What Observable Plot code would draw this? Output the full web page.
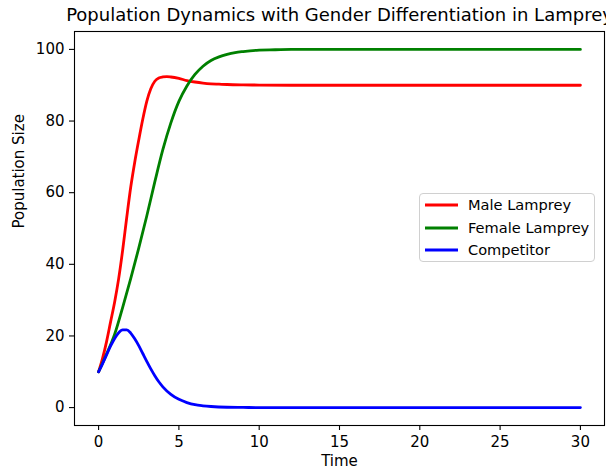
<!DOCTYPE html>
<html>
<head>
<meta charset="utf-8">
<script src="https://cdn.jsdelivr.net/npm/d3@7"></script>
<script src="https://cdn.jsdelivr.net/npm/@observablehq/plot@0.6"></script>
<style>
  html, body { margin: 0; padding: 0; background: #fff; }
  #wrap { position: relative; width: 606px; height: 475px; overflow: hidden; font-family: "DejaVu Sans", sans-serif; }
  #legend { position: absolute; left: 419px; top: 193px; width: 176px; height: 69px; border: 1px solid #d0d0d0; border-radius: 4px; background: rgba(255,255,255,0.8); box-sizing: border-box; }
  .row { position: absolute; left: 0; height: 20px; width: 100%; font-size: 14.6px; color: #000; }
  .row svg { position: absolute; left: 4px; top: 0; }
  .row span { position: absolute; left: 48px; top: 1px; line-height: 18px; white-space: nowrap; }
</style>
</head>
<body>
<div id="wrap"></div>
<script>
const title = "Population Dynamics with Gender Differentiation in Lamprey";
const xLabel = "Time";
const yLabel = "Population Size";
const seriesNames = ["Male Lamprey", "Female Lamprey", "Competitor"];
const seriesColors = ["red", "green", "blue"];
const xTicks = [0, 5, 10, 15, 20, 25, 30];
const yTicks = [0, 20, 40, 60, 80, 100];

const maleT =   [0, 0.25, 0.5, 0.75, 1.0, 1.25, 1.5, 1.75, 2.0, 2.25, 2.5, 2.75, 3.0, 3.25, 3.5, 3.75, 4.0, 4.25, 4.5, 5.0, 5.5, 6.0, 6.5, 7.0, 7.5, 8.0, 9.0, 10, 12, 15, 20, 25, 30];
const maleV =   [10, 13.8, 18.5, 24, 29.5, 36, 44, 53, 61.5, 68.5, 74.7, 80.5, 85.5, 89.0, 91.1, 92.0, 92.3, 92.4, 92.3, 91.9, 91.3, 90.9, 90.6, 90.4, 90.3, 90.2, 90.1, 90.05, 90, 90, 90, 90, 90];

const femaleT = [0, 0.5, 1.0, 1.5, 2.0, 2.5, 3.0, 3.5, 4.0, 4.5, 5.0, 5.5, 6.0, 6.5, 7.0, 7.5, 8.0, 8.5, 9.0, 10, 11, 12, 15, 20, 25, 30];
const femaleV = [10, 15, 20.5, 28, 36, 44.5, 53.5, 63, 72, 79.5, 85.5, 89.8, 93, 95.3, 96.9, 97.9, 98.6, 99.1, 99.4, 99.8, 99.9, 100, 100, 100, 100, 100];

const compT =   [0, 0.25, 0.5, 0.75, 1.0, 1.25, 1.5, 1.75, 2.0, 2.25, 2.5, 2.75, 3.0, 3.25, 3.5, 3.75, 4.0, 4.5, 5.0, 5.5, 6.0, 6.5, 7.0, 8.0, 9.0, 10, 15, 20, 25, 30];
const compV =   [10, 12.3, 14.8, 17.2, 19.3, 20.9, 21.7, 21.7, 20.8, 19.2, 17.3, 15.1, 12.9, 10.8, 8.9, 7.2, 5.8, 3.7, 2.3, 1.4, 0.8, 0.5, 0.3, 0.1, 0.05, 0, 0, 0, 0, 0];

const rows = [];
[[maleT, maleV], [femaleT, femaleV], [compT, compV]].forEach(([ts, vs], i) => {
  ts.forEach((t, j) => rows.push({series: seriesNames[i], t, v: vs[j]}));
});

const font = "DejaVu Sans, sans-serif";
const plot = Plot.plot({
  width: 606,
  height: 475,
  marginLeft: 74,
  marginRight: 2,
  marginTop: 31,
  marginBottom: 50,
  style: {fontFamily: font, fontSize: "15px", color: "#000", background: "#fff", overflow: "visible"},
  x: {domain: [-1.5, 31.5], ticks: xTicks, label: null},
  y: {domain: [-5, 105], ticks: yTicks, label: null},
  color: {domain: seriesNames, range: seriesColors},
  marks: [
    Plot.line(rows, {x: "t", y: "v", z: "series", stroke: "series", strokeWidth: 2.8, curve: "monotone-x"}),
    Plot.frame({stroke: "#000", strokeWidth: 1.1}),
    Plot.axisX({ticks: xTicks, tickSize: 5, tickPadding: 6, label: null, fontSize: 15, stroke: "#000", strokeWidth: 1.1}),
    Plot.axisY({ticks: yTicks, tickSize: 5, tickPadding: 5, label: null, fontSize: 15, stroke: "#000", strokeWidth: 1.1}),
    Plot.text([title], {frameAnchor: "top", lineAnchor: "bottom", dy: -11, fontSize: 18, fill: "#000"}),
    Plot.text([xLabel], {frameAnchor: "bottom", lineAnchor: "top", dy: 30, fontSize: 15, fill: "#000"}),
    Plot.text([yLabel], {frameAnchor: "left", rotate: -90, dx: -55, fontSize: 15, fill: "#000"})
  ]
});
const wrap = document.getElementById("wrap");
wrap.appendChild(plot);

const legend = document.createElement("div");
legend.id = "legend";
const rowTops = [1, 24, 45.5];
seriesNames.forEach((name, i) => {
  const r = document.createElement("div");
  r.className = "row";
  r.style.top = rowTops[i] + "px";
  r.innerHTML = `<svg width="34" height="20"><line x1="1" x2="34" y1="10" y2="10" stroke="${seriesColors[i]}" stroke-width="2.8"/></svg><span>${name}</span>`;
  legend.appendChild(r);
});
wrap.appendChild(legend);
</script>
</body>
</html>
